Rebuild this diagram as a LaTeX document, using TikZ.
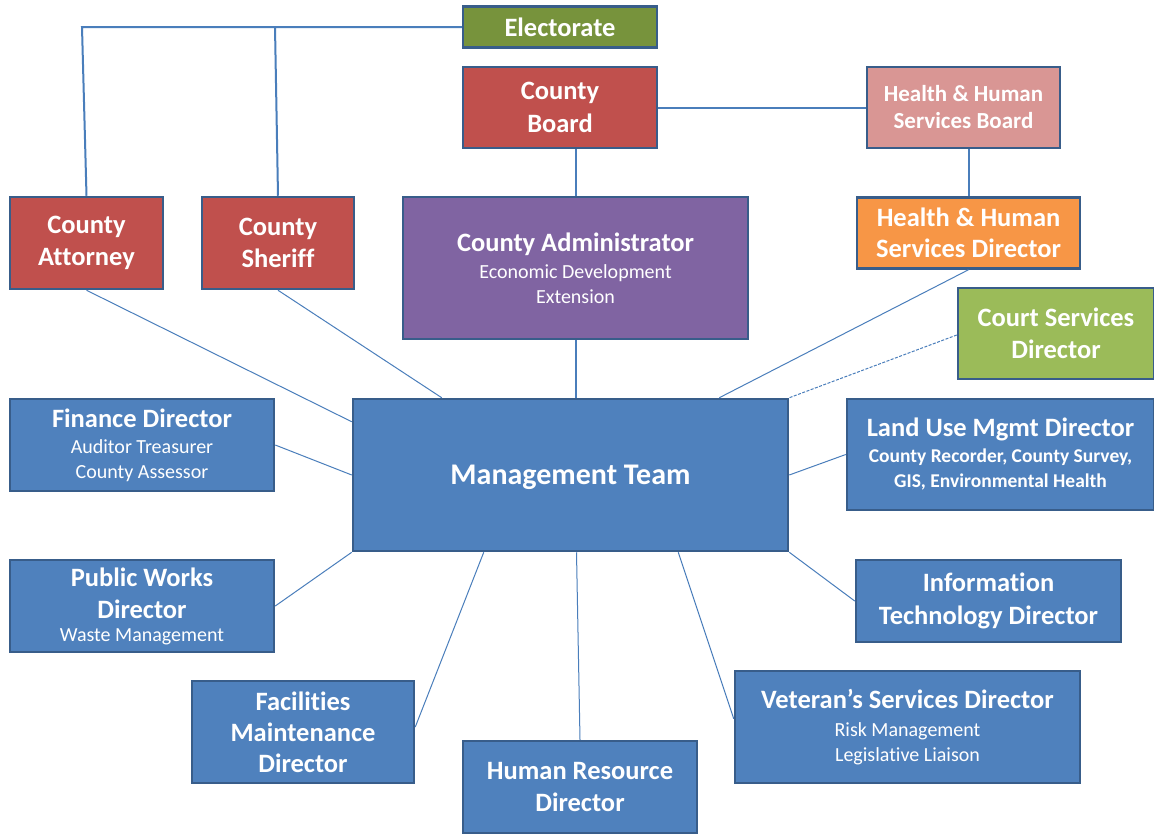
\documentclass[tikz,border=0pt]{standalone}
\usepackage{fontspec}
\setmainfont[Ligatures=NoCommon]{Carlito}
\usepackage{tikz}
\usetikzlibrary{calc}
\definecolor{boxblue}{HTML}{4F81BD}
\definecolor{edgeblue}{HTML}{385D8A}
\definecolor{lineblue}{HTML}{4A7EBB}
\definecolor{boxred}{HTML}{C0504D}
\definecolor{boxpurple}{HTML}{8064A2}
\definecolor{boxolive}{HTML}{77933C}
\definecolor{boxgreen}{HTML}{9BBB59}
\definecolor{boxpink}{HTML}{D99694}
\definecolor{boxorange}{HTML}{F79646}
\tikzstyle{box}=[draw=edgeblue, line width=2.5pt, text=white, align=center, inner sep=0pt, font=\fontsize{26.5}{25}\selectfont\bfseries]
\tikzstyle{bluebox}=[box, fill=boxblue]
\tikzstyle{redbox}=[box, fill=boxred]
\tikzstyle{trunk}=[draw=lineblue, line width=2pt]
\tikzstyle{link}=[draw=lineblue, line width=1pt]
\newcommand{\subline}[1]{{\fontsize{20}{24}\selectfont\mdseries #1}}
\newcommand{\subbold}[1]{{\fontsize{19.5}{24}\selectfont #1}}

\begin{document}
\begin{tikzpicture}[x=1pt,y=-1pt]
	\useasboundingbox[fill=white] (0,0) rectangle (1154,833);
	\node[box, fill=boxolive, minimum width=194, minimum height=41] (elect) at (560,27) {Electorate};
	\node[redbox, minimum width=194, minimum height=81] (board) at (560,107.5) {County\\[8pt]Board};
	\node[box, fill=boxpink, minimum width=193, minimum height=81, font=\fontsize{23}{27}\selectfont\bfseries] (hhsboard) at (963.5,107.5) {Health \& Human\\Services Board};
	\node[box, fill=boxorange, minimum width=223, minimum height=71] (hhsdir) at (968.5,233) {Health \& Human\\[6pt]Services Director};
	\node[box, fill=boxgreen, minimum width=196, minimum height=91] (court) at (1056,333.5) {Court Services\\[7pt]Director};
	\node[redbox, minimum width=153, minimum height=92] (attorney) at (86.5,243) {County\\[7pt]Attorney};
	\node[redbox, minimum width=152, minimum height=92] (sheriff) at (278,243) {County\\[7pt]Sheriff};
	\node[box, fill=boxpurple, minimum width=345, minimum height=142] (admin) at (575.5,268) {County Administrator\\[2pt]\subline{Economic Development}\\\subline{Extension}};
	\node[bluebox, minimum width=435, minimum height=152, text depth=0pt, font=\fontsize{30}{30}\selectfont\bfseries] (mgmt) at (570.5,475) {Management Team};
	\node[bluebox, minimum width=264, minimum height=92] (finance) at (142,445) {Finance Director\\[1pt]\subline{Auditor Treasurer}\\\subline{County Assessor}};
	\node[bluebox, minimum width=307, minimum height=111] (landuse) at (1000.5,454.5) {Land Use Mgmt Director\\[1pt]\subbold{County Recorder, County Survey,}\\\subbold{GIS, Environmental Health}};
	\node[bluebox, minimum width=264, minimum height=92] (works) at (142,606) {Public Works\\[7pt]Director\\[-2pt]\subline{Waste Management}};
	\node[bluebox, minimum width=265, minimum height=82] (it) at (988.5,601) {Information\\[8pt]Technology Director};
	\node[bluebox, minimum width=222, minimum height=102] (facil) at (303,732) {Facilities\\[6pt]Maintenance\\[6pt]Director};
	\node[bluebox, minimum width=234, minimum height=92] (hr) at (580,787) {Human Resource\\[7pt]Director};
	\node[bluebox, minimum width=345, minimum height=112] (vet) at (907.5,727) {Veteran’s Services Director\\[3pt]\subline{Risk Management}\\\subline{Legislative Liaison}};
	\coordinate (attorneytop) at (82,27);
	\coordinate (sherifftop) at (275,27);
	\draw[trunk] (elect.west) -- (attorneytop) -- (attorney.north);
	\draw[trunk] (sherifftop) -- (sheriff.north);
	\draw[trunk] (elect.south) -- (board.south |- elect.south);
	\draw[trunk] (admin.north |- board.south) -- (admin.north);
	\draw[trunk] (board.east) -- (hhsboard.west);
	\draw[trunk] (hhsdir.north |- hhsboard.south) -- (hhsdir.north);
	\draw[trunk] (admin.south) -- (admin.south |- mgmt.north);
	\draw[link] (attorney.south) -- ($(mgmt.north west)+(0,24)$);
	\draw[link] (sheriff.south) -- ($(mgmt.north west)+(90,0)$);
	\draw[link] (hhsdir.south) -- ($(mgmt.north east)+(-70,0)$);
	\draw[link, dashed, dash pattern=on 3pt off 1.5pt] ($(court.west)+(0,1.5)$) -- (mgmt.north east);
	\draw[link] (finance.east) -- (mgmt.west);
	\draw[link] (landuse.west) -- (mgmt.east);
	\draw[link] (works.east) -- (mgmt.south west);
	\draw[link] (it.west) -- (mgmt.south east);
	\draw[link] ($(facil.east)+(0,-5)$) -- ($(mgmt.south west)+(132,0)$);
	\draw[link] (hr.north) -- ($(mgmt.south)+(6,0)$);
	\draw[link] ($(vet.north west)+(0,49)$) -- ($(mgmt.south east)+(-111,0)$);
\end{tikzpicture}
\end{document}
